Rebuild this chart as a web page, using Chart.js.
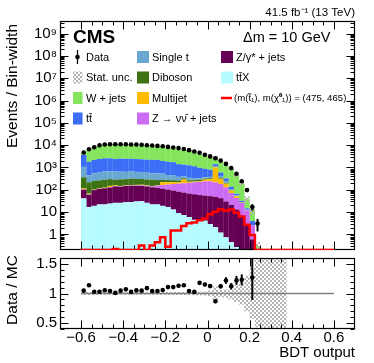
<!DOCTYPE html>
<html>
<head>
<meta charset="utf-8">
<script src="https://cdn.jsdelivr.net/npm/chart.js@4"></script>
<style>
  html, body { margin: 0; padding: 0; background: #fff; }
  #wrap { position: relative; width: 374px; height: 363px; }
  canvas { position: absolute; left: 0; }
  #top { top: 0; }
  #bot { top: 254px; }
</style>
</head>
<body>
<div id="wrap">
  <canvas id="top" width="374" height="254"></canvas>
  <canvas id="bot" width="374" height="109"></canvas>
</div>
<script>
const FONT = '"Liberation Sans", Arial, Helvetica, sans-serif';

// bin centres of the BDT output histogram (bin width 0.025)
const bdtBins = [-0.5875, -0.5625, -0.5375, -0.5125, -0.4875, -0.4625, -0.4375, -0.4125, -0.3875, -0.3625,
  -0.3375, -0.3125, -0.2875, -0.2625, -0.2375, -0.2125, -0.1875, -0.1625, -0.1375, -0.1125,
  -0.0875, -0.0625, -0.0375, -0.0125, 0.0125, 0.0375, 0.0625, 0.0875, 0.1125, 0.1375,
  0.1625, 0.1875, 0.2125, 0.2375, 0.2625, 0.2875, 0.3125, 0.3375, 0.3625];
const binWidth = 0.025;

// background processes, events / bin-width (stack order bottom -> top)
const ttX = [41, 17, 19, 22, 22, 24, 26, 26, 28, 28, 30, 31, 26, 22, 22, 19, 17, 13, 9, 7.4,
  6, 4.5, 4.2, 4.1, 2.9, 2.1, 1.2, 0.74, 0.45, 0.27, 0, 0, 0, 0];
const zGamma = [60, 43, 78, 88, 95, 102, 116, 112, 120, 122, 120, 118, 115, 108, 100, 93, 85, 79, 74, 67.6,
  62, 58.5, 53.8, 50.9, 49.1, 45.9, 40.8, 29.3, 20.6, 12.7, 7, 2.9, 0.6, 0];
const zNuNu = [4, 2, 2, 3, 3, 4, 5, 5, 6, 7, 8, 9, 10, 12, 30, 53, 70, 88, 105, 121,
  137, 152, 167, 185, 188, 167, 140, 99, 51, 30, 19, 9.1, 1.9, 0];
const multijet = [10, 5, 3, 5, 5, 20, 10, 6, 7, 6, 8, 10, 8, 5, 6, 52, 45, 38, 29, 93,
  24, 17, 19, 45, 60, 800, 130, 60, 20, 8, 1, 0.5, 0, 0];
const diboson = [250, 150, 148, 146, 158, 151, 123, 142, 140, 150, 140, 135, 130, 136, 115, 60, 55, 50, 45, 40,
  40, 38, 36, 33, 30, 25, 25, 15, 5, 2, 0.5, 0.1, 0, 0];
const singleTop = [700, 235, 300, 327, 377, 360, 377, 360, 340, 350, 330, 320, 300, 267, 277, 252, 187, 187, 121, 80,
  75, 62, 50, 50, 50, 60, 80, 40, 10, 3, 0.5, 0.2, 0, 0];
const ttbar = [2600, 1350, 1640, 1810, 1910, 1910, 1740, 1850, 1810, 1800, 1750, 1700, 1650, 1640, 1640, 1435, 1350, 1283, 1024, 930,
  900, 810, 647, 500, 420, 300, 180, 80, 30, 10, 4, 2, 1.5, 0];
const wJets = [820, 3990, 5670, 7310, 7580, 7975, 8490, 7995, 7830, 8050, 7770, 7600, 6935, 7110, 6730, 6430, 5770, 5390, 5140, 4540,
  4510, 3920, 2920, 2390, 2000, 1570, 1220, 865, 700, 364, 163, 25, 9.4, 0.3];

const dataVals = [4700, 6600, 8100, 10000, 10700, 11000, 11000, 11000, 11000, 10800, 10700, 10400, 10000, 9700, 9300, 8900, 8400, 7900, 7400, 6700,
  6000, 5200, 4600, 3750, 3150, 2580, 2040, 1450, 940, 525, 240, 97, 17, 3.1];
const dataErr = [60, 80, 90, 110, 115, 120, 120, 120, 120, 118, 117, 115, 112, 110, 107, 104, 100, 97, 93, 88,
  84, 78, 73, 66, 60, 80, 60, 60, 40, 30, 17, 10, 5, 1.7];

// signal (m(stop), m(LSP)) = (475, 465)
const signal = [0, 0, 0, 0, 0, 0, 0.22, 0, 0, 0, 0, 0.32, 0.15, 0.32, 0.45, 0.74, 0.28, 1.5, 1.5, 2.4,
  3.2, 3.4, 4.3, 5.2, 8, 10.5, 13.5, 11.5, 13, 9.3, 6.3, 2.7, 0.95, 0];

// relative MC stat. uncertainty per bin
const mcStatUnc = [0.025, 0.025, 0.025, 0.022, 0.022, 0.022, 0.022, 0.022, 0.022, 0.022, 0.022, 0.022, 0.022, 0.022, 0.022, 0.022, 0.024, 0.024, 0.025, 0.025,
  0.028, 0.03, 0.032, 0.035, 0.05, 0.12, 0.06, 0.07, 0.1, 0.14, 0.19, 0.3, 0.43, 0.57, 1, 1, 1, 1, 1];

// axis ticks
const logTicks = [1, 10, 100, 1e3, 1e4, 1e5, 1e6, 1e7, 1e8, 1e9];
const xTicks = [-0.6, -0.4, -0.2, 0, 0.2, 0.4, 0.6];
const ratioTicks = [0.5, 1, 1.5];

const Y_MIN = 0.2, Y_MAX = 3.7e9;
const X_MIN = -0.6, X_MAX = 0.6;

const layers = [
  { label: 'tt\u0304X', values: ttX, color: '#b5fbff' },
  { label: 'Z/\u03b3* + jets', values: zGamma, color: '#650054' },
  { label: 'Z \u2192 \u03bd\u03bd\u0304 + jets', values: zNuNu, color: '#cc6cf5' },
  { label: 'Multijet', values: multijet, color: '#ffbb00' },
  { label: 'Diboson', values: diboson, color: '#3e7314' },
  { label: 'Single t', values: singleTop, color: '#6aa7d1' },
  { label: 'tt\u0304', values: ttbar, color: '#3b6ef5' },
  { label: 'W + jets', values: wJets, color: '#84e55c' }
];
const colorOf = {};
layers.forEach(l => colorOf[l.label] = l.color);

function hatch(ctx) {
  const c = document.createElement('canvas');
  c.width = 4; c.height = 4;
  const g = c.getContext('2d');
  g.fillStyle = '#b4b4b4';
  g.fillRect(0, 0, 2, 2);
  g.fillRect(2, 2, 2, 2);
  return ctx.createPattern(c, 'repeat');
}

const SUP = { '0': '\u2070', '1': '\u00b9', '2': '\u00b2', '3': '\u00b3', '4': '\u2074', '5': '\u2075', '6': '\u2076', '7': '\u2077', '8': '\u2078', '9': '\u2079' };
function powLabel(v) {
  const e = Math.round(Math.log10(v));
  if (e === 0) return '1';
  if (e === 1) return '10';
  return '10' + String(e).split('').map(c => SUP[c]).join('');
}
function xLabel(v) {
  if (Math.abs(v) < 1e-9) return '0';
  return (v < 0 ? '\u2212' : '') + Math.abs(v).toFixed(1);
}

// frame with inward ticks, drawn after the dataset named `after`
function framePlugin(id, after, yMajor, yMinor) {
  const xMinor = [];
  for (let i = 0; i <= 24; i++) xMinor.push(X_MIN + 0.05 * i);
  return {
    id: id,
    afterDatasetDraw(chart, args) {
      if (chart.data.datasets[args.index].label !== after) return;
      const { ctx, chartArea: a, scales } = chart;
      const L = Math.round(a.left) + 0.5, R = Math.round(a.right) - 0.5;
      const T = Math.round(a.top) + 0.5, B = Math.round(a.bottom) - 0.5;
      ctx.save();
      ctx.strokeStyle = '#000';
      ctx.lineWidth = 1;
      ctx.beginPath();
      xMinor.forEach(v => {
        const major = xTicks.some(m => Math.abs(m - v) < 1e-6);
        const len = major ? 8 : 4;
        const p = Math.round(scales.x.getPixelForValue(v)) + 0.5;
        ctx.moveTo(p, B); ctx.lineTo(p, B - len);
        ctx.moveTo(p, T); ctx.lineTo(p, T + len);
      });
      const tick = (v, len) => {
        const p = Math.round(scales.y.getPixelForValue(v)) + 0.5;
        ctx.moveTo(L, p); ctx.lineTo(L + len, p);
        ctx.moveTo(R, p); ctx.lineTo(R - len, p);
      };
      yMajor.forEach(v => tick(v, 8));
      yMinor.forEach(v => tick(v, 4));
      ctx.stroke();
      ctx.lineWidth = 1.2;
      ctx.strokeRect(L, T, R - L, B - T);
      ctx.restore();
    }
  };
}

// ---------------- upper panel ----------------
const topCtx = document.getElementById('top').getContext('2d');
const topHatch = hatch(topCtx);

const mcTotal = new Array(dataVals.length).fill(0);
const stackSets = layers.map(l => {
  const pts = [];
  l.values.forEach((v, k) => {
    const lo = mcTotal[k];
    const hi = lo + v;
    mcTotal[k] = hi;
    if (v > 0 && hi > Y_MIN) pts.push({ x: bdtBins[k], y: [Math.max(lo, Y_MIN), hi] });
  });
  return {
    type: 'bar', label: l.label, data: pts, backgroundColor: l.color,
    barPercentage: 1.04, categoryPercentage: 1, borderWidth: 0, clip: 0, order: 10
  };
});

const uncTop = [];
mcTotal.forEach((t, k) => {
  if (t > 0) uncTop.push({ x: bdtBins[k], y: [Math.max(t * (1 - mcStatUnc[k]), Y_MIN), t * (1 + mcStatUnc[k])] });
});

const dataPts = dataVals.map((d, k) => ({ x: bdtBins[k], y: d }));
const dataBars = dataVals.map((d, k) => ({ x: bdtBins[k], y: [Math.max(d - dataErr[k], Y_MIN), d + dataErr[k]] }));

const sigPts = [{ x: X_MIN, y: Y_MIN }];
signal.forEach((s, k) => sigPts.push({ x: bdtBins[k] - binWidth / 2, y: s > Y_MIN ? s : Y_MIN }));
sigPts.push({ x: bdtBins[signal.length - 1] + binWidth / 2, y: Y_MIN });
sigPts.push({ x: X_MAX, y: Y_MIN });

const yMinorLog = [];
for (let d = -1; d <= 9; d++) for (let m = 2; m <= 9; m++) {
  const v = m * Math.pow(10, d);
  if (v > Y_MIN && v < Y_MAX) yMinorLog.push(v);
}

const textPlugin = {
  id: 'texts',
  afterDraw(chart) {
    const ctx = chart.ctx;
    ctx.save();
    ctx.fillStyle = '#000';
    ctx.textBaseline = 'middle';
    // lumi
    ctx.font = '11.5px ' + FONT;
    ctx.textAlign = 'right';
    ctx.fillText('41.5 fb\u207b\u00b9 (13 TeV)', 355, 13);
    // CMS label
    ctx.textAlign = 'left';
    ctx.font = 'bold 19px ' + FONT;
    ctx.fillText('CMS', 73, 38);
    ctx.font = '14.5px ' + FONT;
    ctx.fillText('\u0394m = 10 GeV', 243, 38);
    // y title
    ctx.save();
    ctx.translate(13, 24);
    ctx.rotate(-Math.PI / 2);
    ctx.textAlign = 'right';
    ctx.font = '15.5px ' + FONT;
    ctx.fillText('Events / Bin-width', 0, 0);
    ctx.restore();
    // legend
    const boxX = [73, 137, 221], boxW = [9.5, 12, 12], textX = [86, 152, 236];
    const rowY = [57, 77.5, 98, 118.5];
    const items = [
      ['data', 'Data', 0, 0], ['box', 'Single t', 1, 0], ['box', 'Z/\u03b3* + jets', 2, 0],
      ['hatch', 'Stat. unc.', 0, 1], ['box', 'Diboson', 1, 1], ['box', 'tt\u0304X', 2, 1],
      ['box', 'W + jets', 0, 2], ['box', 'Multijet', 1, 2], ['line', '(m(t\u0303\u2081), m(\u03c7\u0303\u2070\u2081)) = (475, 465)', 2, 2],
      ['box', 'tt\u0304', 0, 3], ['box', 'Z \u2192 \u03bd\u03bd\u0304 + jets', 1, 3]
    ];
    items.forEach(([kind, label, c, r]) => {
      const y = rowY[r];
      if (kind === 'box') {
        ctx.fillStyle = colorOf[label];
        ctx.fillRect(boxX[c], y - 6, boxW[c], 12);
      } else if (kind === 'hatch') {
        ctx.fillStyle = topHatch;
        ctx.fillRect(boxX[c], y - 6, boxW[c], 12);
      } else if (kind === 'data') {
        ctx.strokeStyle = '#000'; ctx.lineWidth = 1.3;
        ctx.beginPath(); ctx.moveTo(77.5, y - 7); ctx.lineTo(77.5, y + 7); ctx.stroke();
        ctx.fillStyle = '#000';
        ctx.beginPath(); ctx.arc(77.5, y, 2.3, 0, 2 * Math.PI); ctx.fill();
      } else if (kind === 'line') {
        ctx.strokeStyle = '#ff0000'; ctx.lineWidth = 2.5;
        ctx.beginPath(); ctx.moveTo(boxX[c], y); ctx.lineTo(boxX[c] + 11, y); ctx.stroke();
      }
      ctx.fillStyle = '#000';
      ctx.textAlign = 'left';
      if (kind === 'line') {
        ctx.font = '9.6px ' + FONT;
        ctx.fillText(label, 234, y + 0.5);
      } else {
        ctx.font = '11px ' + FONT;
        ctx.fillText(label, textX[c], y + 0.5);
      }
    });
    ctx.restore();
  }
};

new Chart(topCtx, {
  type: 'bar',
  data: {
    datasets: [
      ...stackSets,
      { type: 'bar', label: 'Stat. unc.', data: uncTop, backgroundColor: topHatch,
        barPercentage: 1.04, categoryPercentage: 1, borderWidth: 0, clip: 0, order: 3 },
      { type: 'line', label: 'signal', data: sigPts, stepped: true, borderColor: '#ff0000',
        borderWidth: 2.5, pointRadius: 0, fill: false, order: 2 },
      { type: 'bar', label: 'data err', data: dataBars, backgroundColor: '#000',
        barThickness: 1.3, borderWidth: 0, clip: 0, order: 1 },
      { type: 'scatter', label: 'Data', data: dataPts, backgroundColor: '#000', borderWidth: 0,
        pointRadius: 2.3, order: 0 }
    ]
  },
  options: {
    responsive: false, animation: false, devicePixelRatio: 1,
    layout: { padding: { left: 0, right: 19, top: 21, bottom: 1 } },
    plugins: { legend: { display: false }, tooltip: { enabled: false } },
    scales: {
      x: { type: 'linear', min: X_MIN, max: X_MAX, stacked: true, display: false },
      y: {
        type: 'logarithmic', min: Y_MIN, max: Y_MAX,
        afterFit(s) { s.width = 60; s.paddingTop = 0; s.paddingBottom = 0; },
        afterBuildTicks(s) { s.ticks = logTicks.map(v => ({ value: v })); },
        grid: { display: false, drawTicks: false }, border: { display: false },
        ticks: { padding: 3, color: '#000', font: { family: FONT, size: 15 }, callback: v => powLabel(v) }
      }
    }
  },
  plugins: [framePlugin('frameTop', 'Stat. unc.', logTicks, yMinorLog), textPlugin]
});

// ---------------- ratio panel ----------------
const botCtx = document.getElementById('bot').getContext('2d');
const botHatch = hatch(botCtx);

const bandPts = mcStatUnc.map((u, k) => ({ x: bdtBins[k], y: [1 - u, 1 + u] }));
const ratioPts = [], ratioBars = [];
dataVals.forEach((d, k) => {
  if (mcTotal[k] <= 0) return;
  const r = d / mcTotal[k], e = dataErr[k] / mcTotal[k];
  ratioPts.push({ x: bdtBins[k], y: r });
  ratioBars.push({ x: bdtBins[k], y: [r - e, r + e] });
});
const ratioMinor = [];
for (let i = 4; i <= 16; i++) ratioMinor.push(i / 10);

const botText = {
  id: 'botTexts',
  afterDraw(chart) {
    const ctx = chart.ctx;
    ctx.save();
    ctx.fillStyle = '#000';
    ctx.font = '15px ' + FONT;
    ctx.textBaseline = 'middle';
    ctx.textAlign = 'right';
    ctx.fillText('BDT output', 355, 99);
    ctx.translate(13, 36);
    ctx.rotate(-Math.PI / 2);
    ctx.textAlign = 'center';
    ctx.font = '15.5px ' + FONT;
    ctx.fillText('Data / MC', 0, 0);
    ctx.restore();
  }
};

new Chart(botCtx, {
  type: 'bar',
  data: {
    datasets: [
      { type: 'bar', label: 'band', data: bandPts, backgroundColor: botHatch,
        barPercentage: 1.04, categoryPercentage: 1, borderWidth: 0, clip: 0, order: 5 },
      { type: 'line', label: 'unity', data: [{ x: X_MIN, y: 1 }, { x: X_MAX, y: 1 }],
        borderColor: '#808080', borderWidth: 1.5, pointRadius: 0, fill: false, order: 3 },
      { type: 'bar', label: 'ratio err', data: ratioBars, backgroundColor: '#000',
        barThickness: 1.3, borderWidth: 0, clip: 0, order: 1 },
      { type: 'scatter', label: 'ratio', data: ratioPts, backgroundColor: '#000', borderWidth: 0,
        pointRadius: 2.3, order: 0 }
    ]
  },
  options: {
    responsive: false, animation: false, devicePixelRatio: 1,
    layout: { padding: { left: 0, right: 19, top: 0, bottom: 0 } },
    plugins: { legend: { display: false }, tooltip: { enabled: false } },
    scales: {
      x: {
        type: 'linear', min: X_MIN, max: X_MAX, stacked: true,
        afterFit(s) { s.height = 34; s.paddingLeft = 0; s.paddingRight = 0; },
        afterBuildTicks(s) { s.ticks = xTicks.map(v => ({ value: v })); },
        grid: { display: false, drawTicks: false }, border: { display: false },
        ticks: { padding: 0, color: '#000', maxRotation: 0, autoSkip: false,
          font: { family: FONT, size: 15 }, callback: v => xLabel(v) }
      },
      y: {
        min: 0.4, max: 1.6,
        afterFit(s) { s.width = 60; s.paddingTop = 0; s.paddingBottom = 0; },
        afterBuildTicks(s) { s.ticks = ratioTicks.map(v => ({ value: v })); },
        grid: { display: false, drawTicks: false }, border: { display: false },
        ticks: { padding: 3, color: '#000', font: { family: FONT, size: 15 }, callback: v => String(v) }
      }
    }
  },
  plugins: [framePlugin('frameBot', 'band', ratioTicks, ratioMinor), botText]
});
</script>
</body>
</html>
